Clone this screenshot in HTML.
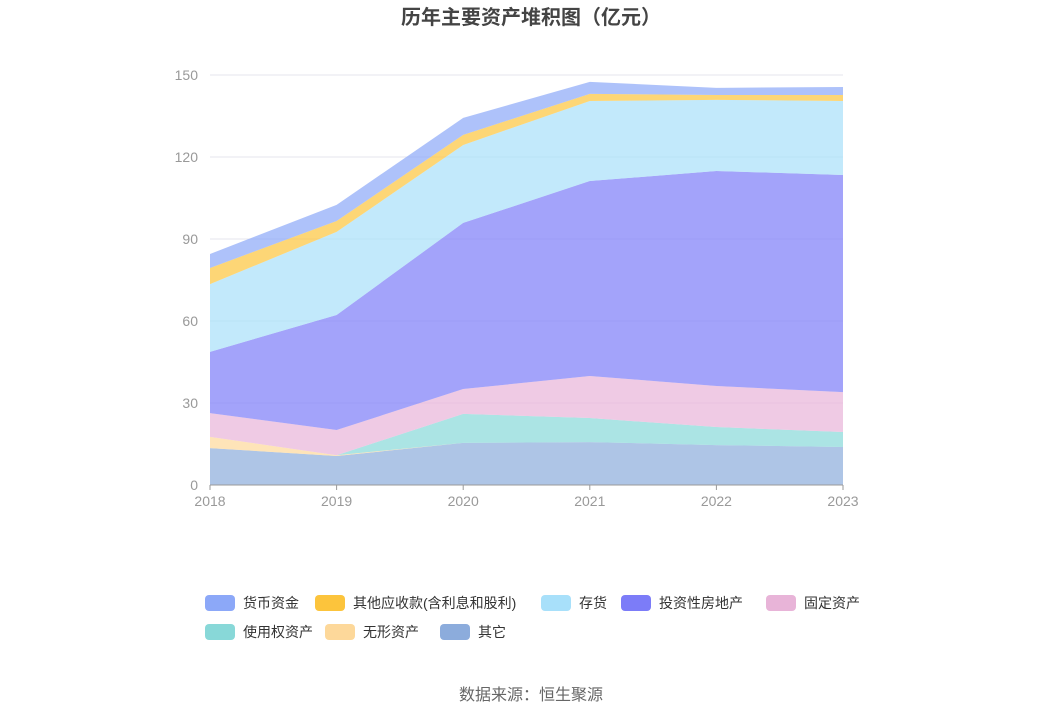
<!DOCTYPE html>
<html><head><meta charset="utf-8"><style>
body{margin:0;background:#fff;font-family:"Liberation Sans","Noto Sans CJK SC",sans-serif;}
</style></head><body>
<svg width="1062" height="718" xmlns="http://www.w3.org/2000/svg">
<text x="531" y="24" text-anchor="middle" font-size="20" font-weight="bold" fill="#444" font-family="Liberation Sans, Noto Sans CJK SC, sans-serif">历年主要资产堆积图（亿元）</text>
<g id="grid"></g><g id="areas"></g><g id="axes"></g><g id="legend"></g>
<text x="531" y="700" text-anchor="middle" font-size="16" fill="#666" font-family="Liberation Sans, Noto Sans CJK SC, sans-serif">数据来源：恒生聚源</text>
</svg>
<script>
const years=["2018","2019","2020","2021","2022","2023"];
const yTicks=[0,30,60,90,120,150];
const seriesNames=["其它","无形资产","使用权资产","固定资产","投资性房地产","存货","其他应收款(含利息和股利)","货币资金"];
const qita=[13.5,10.6,15.4,15.7,14.6,13.9];
const wuxing=[4.1,0.3,0,0,0,0];
const shiyongquan=[0,0,10.6,8.8,6.6,5.5];
const guding=[8.7,9.2,9.1,15.4,15.0,14.6];
const touzi=[22.4,42.1,60.8,71.3,78.7,79.4];
const cunhuo=[24.8,30.4,28.5,29.3,26.0,27.1];
const qitayingshou=[5.9,4.0,3.7,2.6,1.8,2.2];
const huobi=[5.1,5.9,6.2,4.4,2.6,2.9];
const colors=["#8cacdc","#fdd89a","#88d8d8","#e8b4d8","#7c7cf8","#a8e0fa","#fcc43c","#8ca8f8"];
const seriesData=[qita,wuxing,shiyongquan,guding,touzi,cunhuo,qitayingshou,huobi];
const NS="http://www.w3.org/2000/svg";
const X0=210,X1=843,Y0=485,Y1=75,VMAX=150;
const xs=i=>X0+(X1-X0)*i/(years.length-1);
const ys=v=>Y0-(Y0-Y1)*v/VMAX;
function mk(tag,attrs,parent){const e=document.createElementNS(NS,tag);for(const k in attrs)e.setAttribute(k,attrs[k]);parent.appendChild(e);return e;}
const grid=document.getElementById('grid'),axes=document.getElementById('axes'),areas=document.getElementById('areas'),legend=document.getElementById('legend');
yTicks.forEach(t=>{
 if(t>0){const l=mk('line',{x1:X0,x2:X1,y1:ys(t),y2:ys(t),stroke:'#e6e6ee'},grid);
 
 }
 const tx=mk('text',{x:X0-12,y:ys(t)+5,'text-anchor':'end','font-size':14,fill:'#999'},axes);tx.textContent=t;
 
 
});
let cum=years.map(()=>0);
seriesData.forEach((s,k)=>{
 const lo=cum.slice();const hi=cum.map((c,i)=>c+s[i]);cum=hi;
 let d='M'+years.map((_,i)=>xs(i)+','+ys(hi[i])).join(' L');
 d+=' L'+years.map((_,i)=>xs(years.length-1-i)+','+ys(lo[years.length-1-i])).join(' L')+' Z';
 const p=mk('path',{d:d,fill:colors[k],'fill-opacity':0.7},areas);
 
 
});
const ax=mk('line',{x1:X0,x2:X1,y1:Y0,y2:Y0,stroke:'#999'},axes);


years.forEach((y,i)=>{
 mk('line',{x1:xs(i),x2:xs(i),y1:Y0,y2:Y0+5,stroke:'#999'},axes);
 const t=mk('text',{x:xs(i),y:Y0+21,'text-anchor':'middle','font-size':14,fill:'#999'},axes);t.textContent=y;
 
 
});
const legOrder=[7,6,5,4,3,2,1,0];
const legPos=[[205,603],[315,603],[541,603],[621,603],[766,603],[205,632],[325,632],[440,632]];
legOrder.forEach((k,j)=>{
 const g=mk('g',{},legend);
 
 
 const [x,y]=legPos[j];
 mk('rect',{x:x,y:y-8,width:30,height:16,rx:4,fill:colors[k]},g);
 const t=mk('text',{x:x+38,y:y+5,'font-size':14,fill:'#333'},g);t.textContent=seriesNames[k];
});
</script>
</body></html>
